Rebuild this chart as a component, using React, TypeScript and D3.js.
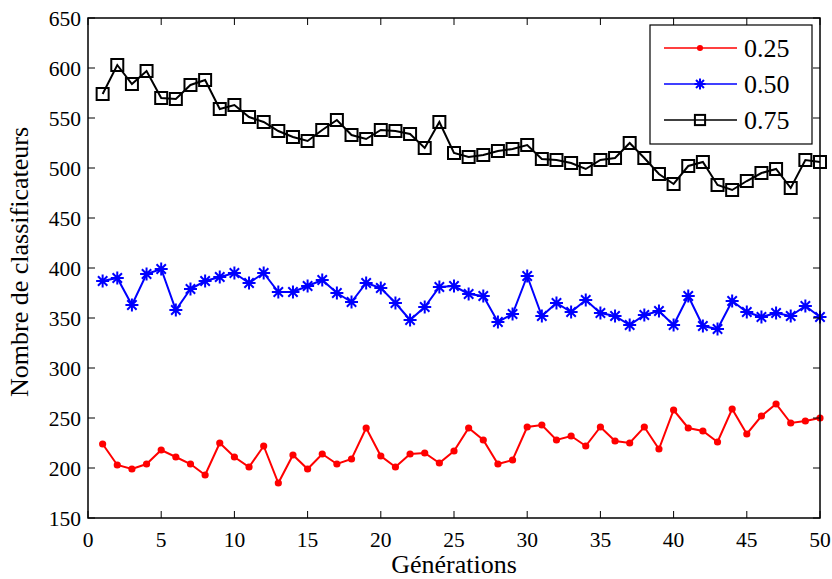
import React from "react";
import * as d3 from "d3";

const generations = d3.range(1, 51);
const seriesNames = ["0.25", "0.50", "0.75"];
const values025 = [
  224, 203, 199, 204, 218, 211, 204, 193, 225, 211, 201, 222, 185, 213, 199, 214, 204, 209, 240, 212,
  201, 214, 215, 205, 217, 240, 228, 204, 208, 241, 243, 228, 232, 222, 241, 227, 225, 241, 219, 258,
  240, 237, 226, 259, 234, 252, 264, 245, 247, 250,
];
const values050 = [
  387, 390, 363, 394, 399, 358, 379, 387, 391, 395, 385, 395, 376, 376, 382, 388, 375, 366, 385, 380,
  365, 348, 361, 381, 382, 374, 372, 346, 354, 392, 352, 365, 356, 368, 355, 352, 343, 353, 357, 343,
  372, 342, 339, 367, 356, 351, 355, 352, 362, 351,
];
const values075 = [
  574, 603, 584, 597, 570, 569, 583, 588, 559, 563, 551, 546, 537, 531, 527, 538, 548, 533, 529, 538,
  537, 534, 520, 546, 515, 511, 513, 517, 519, 523, 509, 508, 505, 499, 508, 510, 525, 510, 494, 484,
  502, 506, 483, 478, 487, 495, 499, 480, 508, 506,
];
const xTicks = [0, 5, 10, 15, 20, 25, 30, 35, 40, 45, 50];
const yTicks = [150, 200, 250, 300, 350, 400, 450, 500, 550, 600, 650];

const W = 832;
const H = 579;
const L = 88, R = 820, T = 18, B = 518;
const FONT = "'Liberation Serif', 'Times New Roman', serif";

type MarkerKind = "dot" | "star" | "square";

function Marker({ kind, x, y, color, s = 1 }: { kind: MarkerKind; x: number; y: number; color: string; s?: number }) {
  if (kind === "dot") return <circle cx={x} cy={y} r={3.6 * s} fill={color} />;
  if (kind === "square") {
    const h = 6 * s;
    return <rect x={x - h} y={y - h} width={2 * h} height={2 * h} fill="none" stroke={color} strokeWidth={2} />;
  }
  const a = 6.5 * s;
  const d = a * 0.72;
  return (
    <path
      d={`M${x - a},${y}L${x + a},${y}M${x},${y - a}L${x},${y + a}M${x - d},${y - d}L${x + d},${y + d}M${x - d},${y + d}L${x + d},${y - d}`}
      stroke={color}
      strokeWidth={2}
      fill="none"
    />
  );
}

export default function App() {
  const x = d3.scaleLinear().domain([0, 50]).range([L, R]);
  const y = d3.scaleLinear().domain([150, 650]).range([B, T]);
  const series = [
    { name: seriesNames[0], vals: values025, color: "#ff0000", marker: "dot" as MarkerKind },
    { name: seriesNames[1], vals: values050, color: "#0000ff", marker: "star" as MarkerKind },
    { name: seriesNames[2], vals: values075, color: "#000000", marker: "square" as MarkerKind },
  ];
  const line = d3
    .line<number>()
    .x((_, i) => x(generations[i]))
    .y((v) => y(v));
  const tl = 7;
  const legRows = [48, 84, 120];
  return (
    <svg width={W} height={H} style={{ position: "absolute", left: 0, top: 0, background: "#fff" }} fontFamily={FONT}>
      <rect x={0} y={0} width={W} height={H} fill="#fff" />
      {series.map((s) => (
        <g key={s.name}>
          <path d={line(s.vals) || ""} fill="none" stroke={s.color} strokeWidth={2} strokeLinejoin="miter" />
          {s.vals.map((v, i) => (
            <Marker key={i} kind={s.marker} x={x(generations[i])} y={y(v)} color={s.color} />
          ))}
        </g>
      ))}
      {/* frame */}
      <rect x={L} y={T} width={R - L} height={B - T} fill="none" stroke="#000" strokeWidth={1.5} />
      {xTicks.map((t) => (
        <g key={"x" + t}>
          <line x1={x(t)} x2={x(t)} y1={B} y2={B - tl} stroke="#000" strokeWidth={1} />
          <line x1={x(t)} x2={x(t)} y1={T} y2={T + tl} stroke="#000" strokeWidth={1} />
          <text x={x(t)} y={547} textAnchor="middle" fontSize={21.5} fill="#000">
            {t}
          </text>
        </g>
      ))}
      {yTicks.map((t) => (
        <g key={"y" + t}>
          <line x1={L} x2={L + tl} y1={y(t)} y2={y(t)} stroke="#000" strokeWidth={1} />
          <line x1={R} x2={R - tl} y1={y(t)} y2={y(t)} stroke="#000" strokeWidth={1} />
          <text x={L - 7} y={y(t) + 7.5} textAnchor="end" fontSize={21.5} fill="#000">
            {t}
          </text>
        </g>
      ))}
      <text x={(L + R) / 2 + 0} y={573} textAnchor="middle" fontSize={26} fill="#000">
        Générations
      </text>
      <text transform={`translate(28,262) rotate(-90)`} textAnchor="middle" fontSize={26} fill="#000">
        Nombre de classificateurs
      </text>
      {/* legend */}
      <rect x={650} y={25} width={162} height={119} fill="#fff" stroke="#000" strokeWidth={1.2} />
      {series.map((s, i) => (
        <g key={"leg" + s.name}>
          <line x1={664} x2={737} y1={legRows[i]} y2={legRows[i]} stroke={s.color} strokeWidth={1.5} />
          <Marker kind={s.marker} x={700} y={legRows[i]} color={s.color} s={s.marker === "dot" ? 0.85 : 0.85} />
          <text x={744} y={legRows[i] + 9} fontSize={26} fill="#000">
            {s.name}
          </text>
        </g>
      ))}
    </svg>
  );
}
